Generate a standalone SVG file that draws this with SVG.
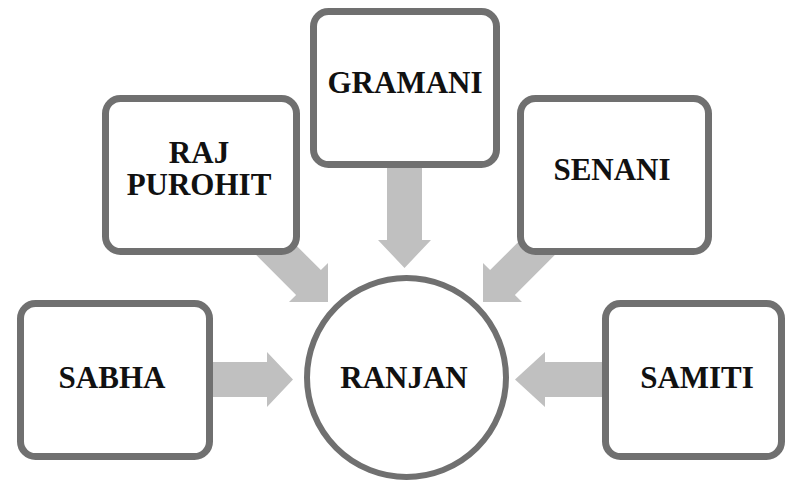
<svg xmlns="http://www.w3.org/2000/svg" width="786" height="481" viewBox="0 0 786 481">
  <style>
    .box { fill: #ffffff; stroke: #707070; stroke-width: 7; }
    .circ { fill: #ffffff; stroke: #707070; stroke-width: 6; }
    .arr { fill: #c0c0c0; stroke: none; }
    .lbl { font-family: "Liberation Serif", "Times New Roman", serif; font-weight: bold; font-size: 31px; fill: #111111; text-anchor: middle; }
  </style>
  <rect width="786" height="481" fill="#ffffff"/>
  <g id="connectors">
    <polygon class="arr" points="205,362 267,362 267,352 293,379.5 267,407 267,397 205,397"/>
    <polygon class="arr" points="610,362 545,362 545,352 515,379.5 545,407 545,397 610,397"/>
    <polygon class="arr" points="387,160 422,160 422,240 431,240 404.5,268 378,240 387,240"/>
    <polygon class="arr" points="264.3,213.5 320.9,270.1 328,263 328,302 289,302 296.1,294.9 239.5,238.3"/>
    <polygon class="arr" points="546.7,213.5 490.1,270.1 483,263 483,302 522,302 514.9,294.9 571.5,238.3"/>
  </g>
  <g id="sabha">
    <rect class="box" x="20.5" y="303.5" width="189" height="153" rx="15"/>
    <text class="lbl" x="112" y="388">SABHA</text>
  </g>
  <g id="raj-purohit">
    <rect class="box" x="105.5" y="98.5" width="191" height="153" rx="15"/>
    <text class="lbl" x="199" y="163">RAJ</text>
    <text class="lbl" x="199" y="195">PUROHIT</text>
  </g>
  <g id="gramani">
    <rect class="box" x="313.5" y="11.5" width="183" height="153" rx="15"/>
    <text class="lbl" x="405" y="93">GRAMANI</text>
  </g>
  <g id="senani">
    <rect class="box" x="520.5" y="98.5" width="188" height="153" rx="15"/>
    <text class="lbl" x="612" y="180">SENANI</text>
  </g>
  <g id="samiti">
    <rect class="box" x="605.5" y="303.5" width="176" height="153" rx="15"/>
    <text class="lbl" x="697" y="388">SAMITI</text>
  </g>
  <g id="ranjan">
    <circle class="circ" cx="406.5" cy="377.5" r="99.5"/>
    <text class="lbl" x="404" y="388">RANJAN</text>
  </g>
</svg>
